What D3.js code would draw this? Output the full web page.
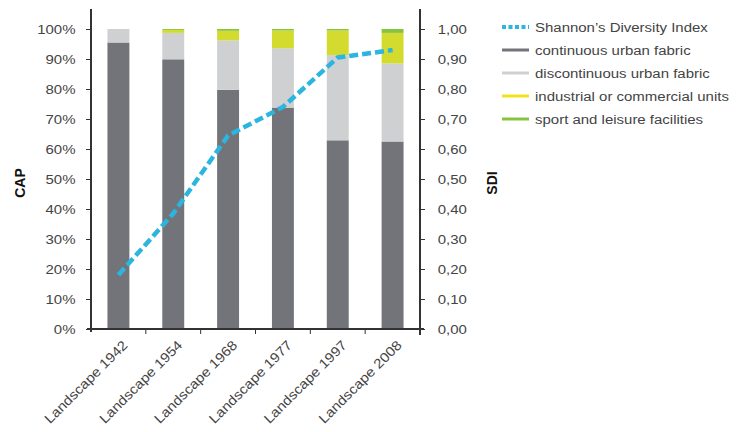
<!DOCTYPE html>
<html>
<head>
<meta charset="utf-8">
<script src="https://cdn.jsdelivr.net/npm/d3@7"></script>
<style>
  body { margin: 0; background: #fff; }
  text { font-family: "Liberation Sans", Arial, sans-serif; fill: #444; }
</style>
</head>
<body>
<div id="chart"></div>
<script>
const width = 738;
const height = 432;

// categories and series (shares in %, SDI 0..1)
const landscapes = ["Landscape 1942", "Landscape 1954", "Landscape 1968", "Landscape 1977", "Landscape 1997", "Landscape 2008"];
const continuous = [95.5, 89.9, 79.7, 73.8, 62.9, 62.5];
const discontinuous = [4.5, 8.8, 16.5, 19.8, 28.4, 26.0];
const industrial = [0, 1.0, 3.2, 5.9, 8.2, 10.2];
const sport = [0, 0.3, 0.6, 0.5, 0.5, 1.3];
const sdi = [0.18, 0.385, 0.645, 0.74, 0.905, 0.93];

const leftTicks = [0, 10, 20, 30, 40, 50, 60, 70, 80, 90, 100];
const rightTicks = [0, 0.1, 0.2, 0.3, 0.4, 0.5, 0.6, 0.7, 0.8, 0.9, 1.0];

const seriesNames = ["continuous urban fabric", "discontinuous urban fabric", "industrial or commercial units", "sport and leisure facilities"];
const barColors = ["#737479", "#cfd0d2", "#d3dc2e", "#86c440"];
const legendColors = ["#737479", "#cfd0d2", "#f2e21a", "#86c440"];
const lineColor = "#2bb5df";

// the original type is a little wider than Liberation Sans
const stretch = "scale(1.11,1)";

const margin = { top: 29, right: 318, bottom: 103, left: 91 };
const innerW = width - margin.left - margin.right;
const innerH = height - margin.top - margin.bottom;

const svg = d3.select("#chart").append("svg")
    .attr("width", width)
    .attr("height", height)
    .attr("viewBox", [0, 0, width, height]);

const g = svg.append("g").attr("transform", `translate(${margin.left},${margin.top})`);

const x = d3.scaleBand().domain(landscapes).range([0, innerW]).paddingInner(0.6).paddingOuter(0.3);
const y = d3.scaleLinear().domain([0, 100]).range([innerH, 0]);
const y2 = d3.scaleLinear().domain([0, 1]).range([innerH, 0]);

// build stacked rows
const rows = landscapes.map((name, i) => ({
    name,
    s0: continuous[i], s1: discontinuous[i], s2: industrial[i], s3: sport[i]
}));
const stacked = d3.stack().keys(["s0", "s1", "s2", "s3"])(rows);

g.append("g").selectAll("g")
    .data(stacked)
    .join("g")
    .attr("fill", (d, i) => barColors[i])
    .selectAll("rect")
    .data(d => d)
    .join("rect")
    .attr("x", d => x(d.data.name))
    .attr("y", d => y(d[1]))
    .attr("width", x.bandwidth())
    .attr("height", d => y(d[0]) - y(d[1]));

// SDI dashed line
const line = d3.line()
    .x((d, i) => x(landscapes[i]) + x.bandwidth() / 2)
    .y(d => y2(d));

g.append("path")
    .datum(sdi)
    .attr("fill", "none")
    .attr("stroke", lineColor)
    .attr("stroke-width", 4.5)
    .attr("stroke-dasharray", "9,4")
    .attr("d", line);

// axes
const axisColor = "#333";

const leftAxis = g.append("g")
    .call(d3.axisLeft(y).tickValues(leftTicks).tickSize(5).tickPadding(9).tickFormat(d => d + "%"));
const rightAxis = g.append("g")
    .attr("transform", `translate(${innerW},0)`)
    .call(d3.axisRight(y2).tickValues(rightTicks).tickSize(5).tickPadding(11).tickFormat(d => d3.format(".2f")(d).replace(".", ",")));

[leftAxis, rightAxis].forEach(a => {
    a.select(".domain").remove();
    a.selectAll("line").attr("stroke", axisColor).attr("stroke-width", 1);
    a.selectAll("text").attr("font-size", 13.5).attr("transform", stretch).style("fill", "#444");
});

// vertical axis lines
g.append("line").attr("x1", 0).attr("x2", 0).attr("y1", -20).attr("y2", innerH + 3)
    .attr("stroke", axisColor).attr("stroke-width", 2);
g.append("line").attr("x1", innerW).attr("x2", innerW).attr("y1", -20).attr("y2", innerH + 6)
    .attr("stroke", axisColor).attr("stroke-width", 2);

// bottom axis with ticks between categories
const bottom = g.append("g").attr("transform", `translate(0,${innerH})`);
bottom.append("line").attr("x1", -4).attr("x2", innerW + 4)
    .attr("stroke", axisColor).attr("stroke-width", 2);
bottom.selectAll("line.tick")
    .data(landscapes.slice(1))
    .join("line")
    .attr("class", "tick")
    .attr("x1", d => x(d) - x.step() * x.paddingInner() / 2)
    .attr("x2", d => x(d) - x.step() * x.paddingInner() / 2)
    .attr("y1", 0).attr("y2", 5)
    .attr("stroke", axisColor).attr("stroke-width", 1);

bottom.selectAll("text.lab")
    .data(landscapes)
    .join("text")
    .attr("class", "lab")
    .attr("text-anchor", "end")
    .attr("font-size", 13.5)
    .attr("transform", d => `translate(${x(d) + x.bandwidth() / 2 + 10},${17}) rotate(-45) ${stretch}`)
    .text(d => d);

// axis titles
svg.append("text")
    .attr("transform", `translate(25,183) rotate(-90)`)
    .attr("text-anchor", "middle")
    .attr("font-size", 14)
    .attr("font-weight", "bold")
    .style("fill", "#111")
    .text("CAP");
svg.append("text")
    .attr("transform", `translate(497,183) rotate(-90)`)
    .attr("text-anchor", "middle")
    .attr("font-size", 14)
    .attr("font-weight", "bold")
    .style("fill", "#111")
    .text("SDI");

// legend
const legend = svg.append("g").attr("transform", "translate(502,27)");
const legendItems = [{ name: "Shannon\u2019s Diversity Index", dotted: true, color: lineColor }]
    .concat(seriesNames.map((n, i) => ({ name: n, dotted: false, color: legendColors[i] })));

const item = legend.selectAll("g")
    .data(legendItems)
    .join("g")
    .attr("transform", (d, i) => `translate(0,${i * 23})`);

item.append("line")
    .attr("x1", 0).attr("x2", 27)
    .attr("stroke", d => d.color)
    .attr("stroke-width", d => d.dotted ? 4 : 3)
    .attr("stroke-dasharray", d => d.dotted ? "4,2.5" : null);

item.append("text")
    .attr("transform", `translate(33,0) ${stretch}`)
    .attr("dy", "0.35em")
    .attr("font-size", 13.5)
    .text(d => d.name);
</script>
</body>
</html>
